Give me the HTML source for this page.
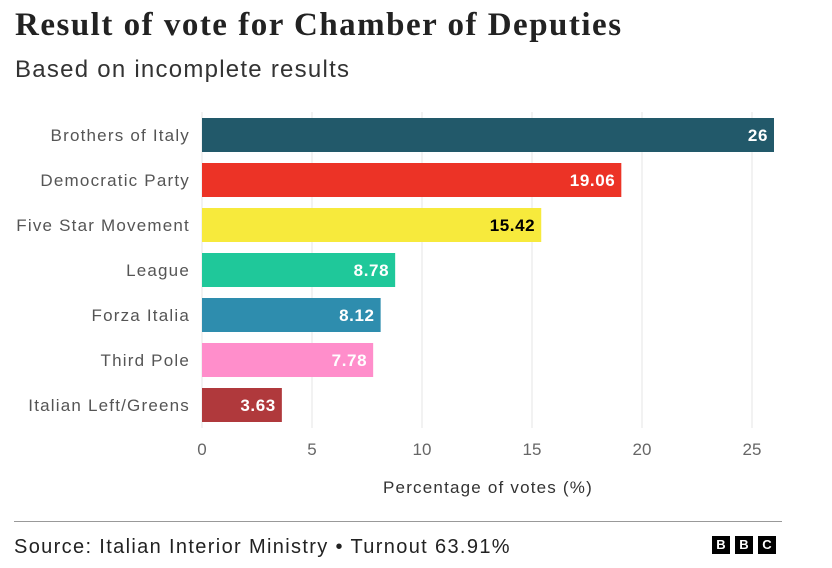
<!DOCTYPE html>
<html><head><meta charset="utf-8"><style>
body{margin:0;width:832px;height:568px;background:#fff;font-family:"Liberation Sans",sans-serif;position:relative;overflow:hidden}
.t{position:absolute;white-space:nowrap}
</style></head><body>
<div class="t" style="left:15px;top:7px;font-family:'Liberation Serif',serif;font-weight:bold;font-size:33px;letter-spacing:1.5px;color:#222">Result of vote for Chamber of Deputies</div>
<div class="t" style="left:15px;top:56px;font-size:24px;letter-spacing:1.25px;color:#333">Based on incomplete results</div>
<svg id="c" width="832" height="568" style="position:absolute;left:0;top:0"></svg>
<div class="t" style="left:383px;top:478px;font-size:17px;letter-spacing:1.2px;color:#333">Percentage of votes (%)</div>
<div style="position:absolute;left:14px;top:521px;width:768px;height:1px;background:#999"></div>
<div class="t" style="left:14px;top:536px;font-size:20px;letter-spacing:1.35px;color:#222">Source: Italian Interior Ministry • Turnout 63.91%</div>
<div style="position:absolute;left:712px;top:536px;display:flex;gap:5px">
<span style="width:18px;height:18px;background:#000;color:#fff;font-weight:bold;font-size:13px;text-align:center;line-height:18px">B</span>
<span style="width:18px;height:18px;background:#000;color:#fff;font-weight:bold;font-size:13px;text-align:center;line-height:18px">B</span>
<span style="width:18px;height:18px;background:#000;color:#fff;font-weight:bold;font-size:13px;text-align:center;line-height:18px">C</span>
</div>
<script>
const categories=["Brothers of Italy","Democratic Party","Five Star Movement","League","Forza Italia","Third Pole","Italian Left/Greens"];
const values=[26,19.06,15.42,8.78,8.12,7.78,3.63];
const labels=["26","19.06","15.42","8.78","8.12","7.78","3.63"];
const ticks=[0,5,10,15,20,25];
const colors=["#22596a","#ec3326","#f7ea3c","#1fc89a","#2e8dae","#ff8ecb","#b0393c"];
const textColors=["#fff","#fff","#000","#fff","#fff","#fff","#fff"];
const svg=document.getElementById('c');const NS="http://www.w3.org/2000/svg";
const x=v=>202+v*22, y=i=>118+i*45, bh=34;
function mk(t,a){const e=document.createElementNS(NS,t);for(const k in a)e.setAttribute(k,a[k]);svg.appendChild(e);return e;}
ticks.forEach(t=>{
 const l=mk('line',{x1:x(t),x2:x(t),y1:112,y2:428,stroke:'#e4e4e4','stroke-width':1});
 
 
 const tx=mk('text',{x:x(t),y:455,'text-anchor':'middle','font-size':17,fill:'#666'});
 tx.textContent=t;
 
 
});
categories.forEach((c,i)=>{
 const r=mk('rect',{x:x(0),y:y(i),width:x(values[i])-x(0),height:bh,fill:colors[i]});
 
 
 const cl=mk('text',{x:190,y:y(i)+bh/2+6,'text-anchor':'end','font-size':17,'letter-spacing':'1.2',fill:'#555'});
 cl.textContent=c;
 
 
 const vl=mk('text',{x:x(values[i])-6,y:y(i)+bh/2+6,'text-anchor':'end','font-size':17,'font-weight':'bold','letter-spacing':'0.6',fill:textColors[i]});
 vl.textContent=labels[i];
 
 
});
</script>
</body></html>
